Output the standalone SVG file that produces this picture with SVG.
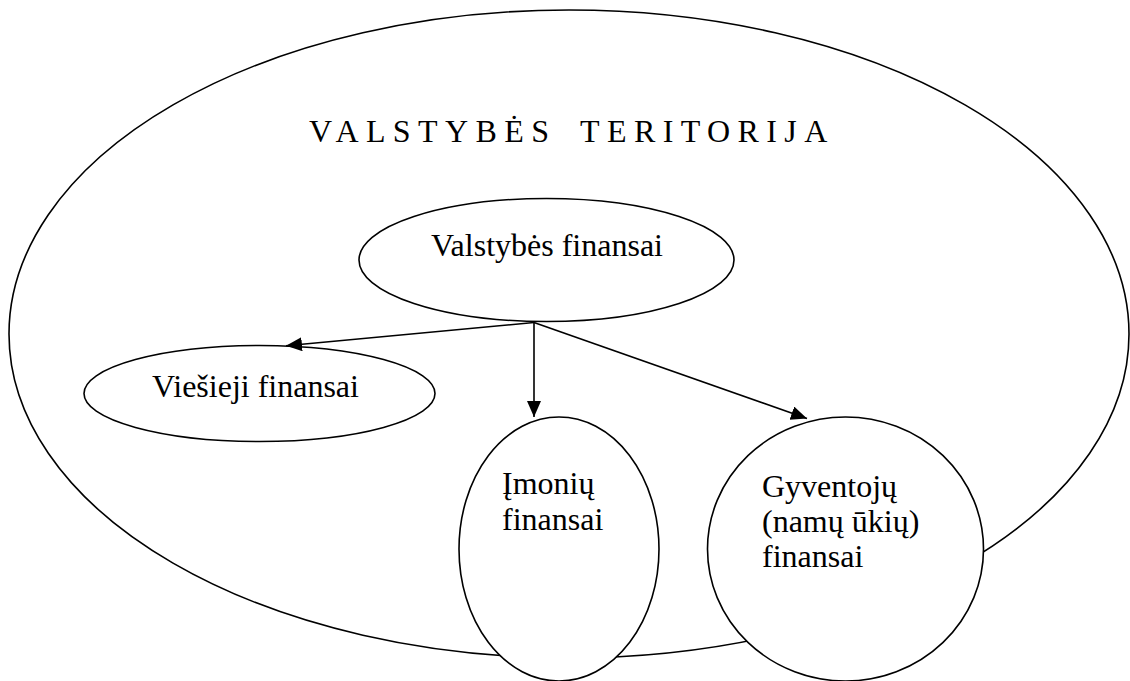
<svg xmlns="http://www.w3.org/2000/svg" width="1130" height="681" viewBox="0 0 1130 681">
  <style>
    .shape { fill: none; stroke: #000; stroke-width: 1.6; }
    .filled { fill: #fff; stroke: #000; stroke-width: 1.6; }
    .lbl { font-family: 'Liberation Serif', 'DejaVu Serif', 'Times New Roman', serif; font-size: 32px; fill: #000; }
    .title { font-family: 'Liberation Serif', 'DejaVu Serif', 'Times New Roman', serif; font-size: 32px; fill: #000; letter-spacing: 7.4px; }
    .conn { stroke: #000; stroke-width: 1.6; fill: none; }
  </style>
  <defs>
    <marker id="arrow" markerUnits="userSpaceOnUse" markerWidth="18" markerHeight="16" refX="16" refY="7" orient="auto">
      <path d="M0,0 L16,7 L0,14 Z" fill="#000"/>
    </marker>
  </defs>
  <rect x="0" y="0" width="1130" height="681" fill="#fff"/>

  <g id="territory">
    <ellipse class="shape" cx="569" cy="334" rx="560" ry="324"/>
    <text class="title" y="142"><tspan x="309">VALSTYBĖS</tspan><tspan x="580">TERITORIJA</tspan></text>
  </g>

  <g id="valstybes-finansai">
    <ellipse class="filled" cx="546.5" cy="260" rx="187.5" ry="61.5"/>
    <text class="lbl" x="547" y="256" text-anchor="middle">Valstybės finansai</text>
  </g>

  <g id="viesieji-finansai">
    <ellipse class="filled" cx="259.5" cy="393.5" rx="175.5" ry="48"/>
    <text class="lbl" x="255.5" y="397" text-anchor="middle">Viešieji finansai</text>
  </g>

  <g id="connectors">
    <line class="conn" x1="534" y1="322.5" x2="286" y2="345.7" marker-end="url(#arrow)"/>
    <line class="conn" x1="534" y1="322.5" x2="534" y2="417" marker-end="url(#arrow)"/>
    <line class="conn" x1="534" y1="322.5" x2="807" y2="418.5" marker-end="url(#arrow)"/>
  </g>

  <g id="imoniu-finansai">
    <ellipse class="filled" cx="559" cy="549" rx="100" ry="132"/>
    <text class="lbl" x="502" y="494">Įmonių</text>
    <text class="lbl" x="502" y="530">finansai</text>
  </g>

  <g id="gyventoju-finansai">
    <ellipse class="filled" cx="845.5" cy="549" rx="138" ry="132"/>
    <text class="lbl" x="762" y="497">Gyventojų</text>
    <text class="lbl" x="762" y="532">(namų ūkių)</text>
    <text class="lbl" x="762" y="567">finansai</text>
  </g>
</svg>
